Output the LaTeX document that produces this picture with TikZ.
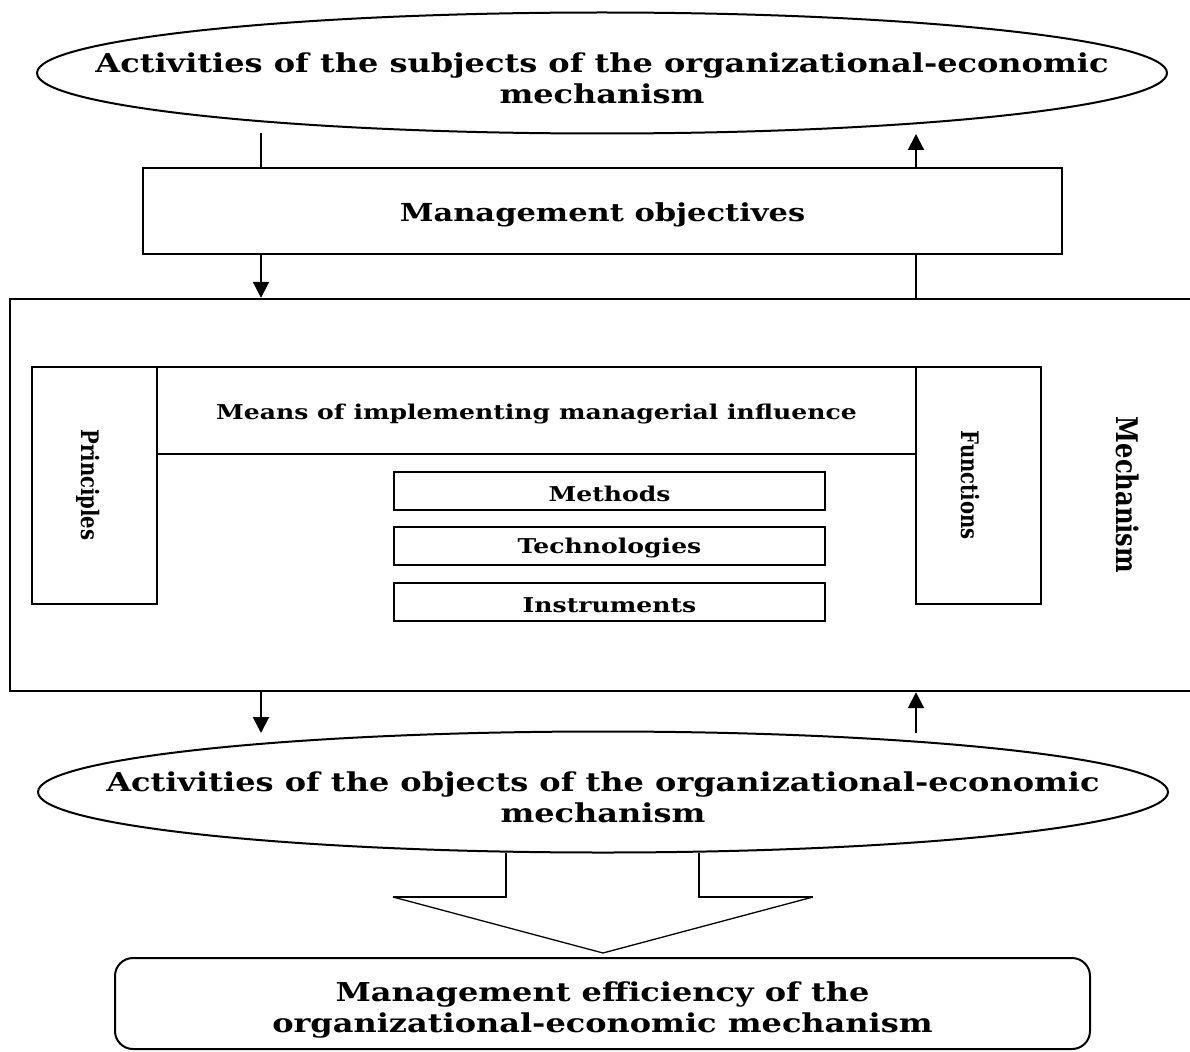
\documentclass[tikz,border=0pt]{standalone}
\usepackage{fontspec}
\setmainfont{DejaVu Serif}[FakeStretch=1.23]
\newfontfamily\plainserif{DejaVu Serif}
\usetikzlibrary{arrows.meta,shapes.geometric}
\begin{document}
\begin{tikzpicture}[x=1pt,y=-1pt,
  box/.style={draw,line width=2.4pt,inner sep=0pt,minimum width=#1},
  ell/.style={draw,ellipse,line width=2pt,inner sep=0pt,minimum width=1130pt,minimum height=121pt},
  lbl/.style={font=\bfseries,align=center,inner sep=0pt},
  conn/.style={line width=2pt},
  arr/.style={line width=2pt,-{Triangle[width=16pt,length=16pt]}},
  big/.style={font=\fontsize{26}{31}\selectfont\bfseries},
  obtx/.style={font=\fontsize{24.8}{30}\selectfont\bfseries},
  mid/.style={font=\fontsize{20.4}{24}\selectfont\bfseries},
  vsmall/.style={font=\plainserif\fontsize{19.6}{22}\selectfont\bfseries},
  vbig/.style={font=\plainserif\fontsize{24.2}{28}\selectfont\bfseries}
]
\path[use as bounding box] (0,0) rectangle (1190,1051);
\clip (0,0) rectangle (1190,1051);
% top ellipse
\node[ell] (topell) at (602,73) {};
\node[lbl,big] (toptext) at (602,78) {Activities of the subjects of the organizational-economic\\mechanism};
% objectives
\node[box=919pt,minimum height=86pt] (obj) at (602.5,211) {};
\node[lbl,obtx] (objtext) at (602.5,215) {Management objectives};
% mechanism box
\node[box=1200pt,minimum height=392pt] (mech) at (610,495) {};
\node[lbl,vbig,rotate=-90] (mechtext) at (1128,495) {\scalebox{1}[1.23]{Mechanism}};
% principles / means / functions
\node[box=125pt,minimum height=237pt] (princ) at (94.5,485.5) {};
\node[lbl,vsmall,rotate=-90] (princtext) at (88,485) {\scalebox{1}[1.23]{Principles}};
\node[box=759pt,minimum height=87pt] (means) at (536.5,410.5) {};
\node[lbl,mid] (meanstext) at (536.5,414) {Means of implementing managerial influence};
\node[box=125pt,minimum height=237pt] (func) at (978.5,485.5) {};
\node[lbl,vsmall,rotate=-90] (functext) at (970,485) {\scalebox{1}[1.23]{Functions}};
\node[box=431pt,minimum height=38pt] (methods) at (609.5,491) {};
\node[lbl,mid] (methtext) at (609.5,493.5) {Methods};
\node[box=431pt,minimum height=38pt] (techs) at (609.5,546) {};
\node[lbl,mid] (techtext) at (609.5,548.5) {Technologies};
\node[box=431pt,minimum height=38pt] (instr) at (609.5,602) {};
\node[lbl,mid] (instrtext) at (609.5,605) {Instruments};
% bottom ellipse
\node[ell] (botell) at (603,792) {};
\node[lbl,big] (bottext) at (603,797) {Activities of the objects of the organizational-economic\\mechanism};
% result
\node[draw,line width=2pt,rounded corners=18pt,minimum width=975pt,minimum height=91pt,inner sep=0pt] (eff) at (602.5,1003.5) {};
\node[lbl,big] (efftext) at (602.5,1010) {Management efficiency of the\\organizational-economic mechanism};
% connectors
\coordinate (a1) at (261,133);
\coordinate (a2) at (916,134);
\coordinate (b1) at (261,733);
\coordinate (b2) at (916,733);
\draw[conn] (a1) -- (a1 |- obj.north);
\draw[arr] (obj.south -| a1) -- (mech.north -| a1);
\draw[conn] (mech.north -| a2) -- (obj.south -| a2);
\draw[arr] (obj.north -| a2) -- (a2);
\draw[arr] (mech.south -| b1) -- (b1);
\draw[arr] (b2) -- (mech.south -| b2);
% block arrow
\coordinate (s1) at (506,853);
\coordinate (s2) at (699,853);
\draw[line width=2.2pt,line join=miter] (s1) -- (506,897) -- (393,897);
\draw[line width=2.2pt,line join=miter] (s2) -- (699,897) -- (813,897);
\draw[line width=1.3pt] (393,897) -- (603,953) -- (813,897);
\end{tikzpicture}
\end{document}
